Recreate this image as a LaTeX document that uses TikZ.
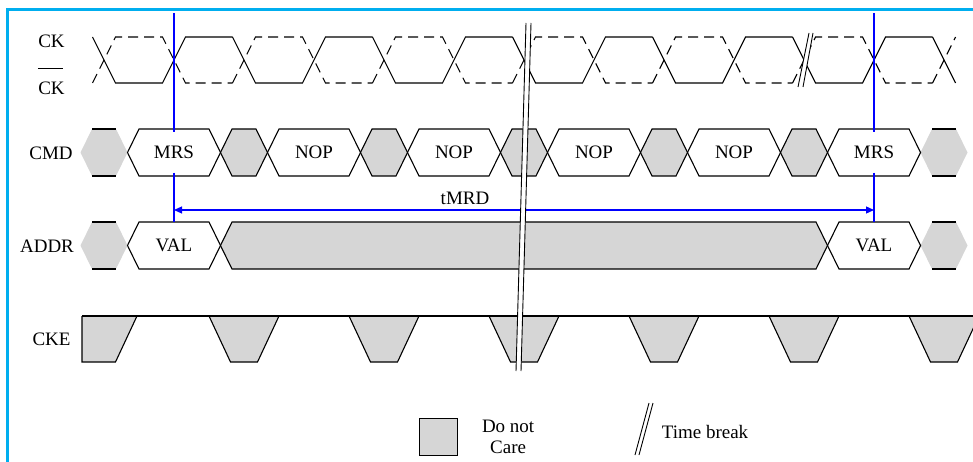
\documentclass[tikz,border=0pt]{standalone}
\usepackage{fontspec}
\setmainfont{Liberation Serif}
\usetikzlibrary{positioning}
\usetikzlibrary{arrows.meta}
\usetikzlibrary{calc}
\definecolor{framecyan}{RGB}{0,174,239}
\definecolor{dncgray}{RGB}{214,214,214}

\begin{document}
\begin{tikzpicture}[x=1pt,y=-1pt,line width=1.1pt,
		every node/.style={font=\fontsize{19}{21}\selectfont,inner sep=0pt},
		dnc/.style={fill=dncgray},
		ckdash/.style={dash pattern=on 10pt off 6pt},
		bustext/.style={minimum height=39pt},
		tline/.style={blue,line width=1.2pt},
		brk/.style={line width=0.9pt}]
		\useasboundingbox (0,0) rectangle (973,462);

		% Frame
		\draw[framecyan,line width=3pt] (7.5,480) -- (7.5,9.5) -- (990,9.5);

		% Signal names
		\node (ck) at (51.5,41) {CK};
		\node (ckb) at (51.5,88) {CK};
		\draw[line width=0.9pt] ([yshift=12.5pt]ckb.north west) -- ([yshift=12.5pt,xshift=-2pt]ckb.north east);
		\node (cmd) at (51,153) {CMD};
		\node (addr) at (47,246) {ADDR};
		\node (cke) at (51.5,339) {CKE};

		% Clock pair
		\foreach \x in {104,244,...,804} {
			\draw (\x-11.5,37) -- (\x+11.5,83) -- (\x+58.5,83) -- (\x+81.5,37) -- (\x+128.5,37);
			\draw[ckdash] (\x-11.5,83) -- (\x+11.5,37) -- (\x+58.5,37) -- (\x+81.5,83) -- (\x+128.5,83);
		}
		\draw (932.5,37) -- (955.5,83);
		\draw[ckdash] (932.5,83) -- (955.5,37);

		% Command bus
		\fill[dnc] (80.5,152.5) -- (92,129) -- (116,129) -- (127.5,152.5) -- (116,176) -- (92,176) -- cycle;
		\fill[dnc] (920.5,152.5) -- (932,129) -- (956,129) -- (967.5,152.5) -- (956,176) -- (932,176) -- cycle;
		\draw (92,129) -- (116,129) (92,176) -- (116,176);
		\draw (932,129) -- (956,129) (932,176) -- (956,176);
		\foreach \xa in {220.5,360.5,...,780.5}
			\draw[dnc] (\xa,152.5) -- (\xa+11.5,129) -- (\xa+35.5,129) -- (\xa+47,152.5) -- (\xa+35.5,176) -- (\xa+11.5,176) -- cycle;
		\foreach \xa/\xb/\cmdtext/\i in {127.5/220.5/MRS/1, 267.5/360.5/NOP/2, 407.5/500.5/NOP/3, 547.5/640.5/NOP/4, 687.5/780.5/NOP/5, 827.5/920.5/MRS/6} {
			\draw (\xa,152.5) -- (\xa+11.5,129) -- (\xb-11.5,129) -- (\xb,152.5) -- (\xb-11.5,176) -- (\xa+11.5,176) -- cycle;
			\node[bustext] (cmd\i) at ({(\xa+\xb)/2},152.5) {\cmdtext};
		}

		% Address bus
		\fill[dnc] (80.5,245.5) -- (92,222) -- (116,222) -- (127.5,245.5) -- (116,269) -- (92,269) -- cycle;
		\fill[dnc] (920.5,245.5) -- (932,222) -- (956,222) -- (967.5,245.5) -- (956,269) -- (932,269) -- cycle;
		\draw (92,222) -- (116,222) (92,269) -- (116,269);
		\draw (932,222) -- (956,222) (932,269) -- (956,269);
		\draw[dnc] (220.5,245.5) -- (232,222) -- (816,222) -- (827.5,245.5) -- (816,269) -- (232,269) -- cycle;
		\foreach \xa/\xb/\i in {127.5/220.5/1, 827.5/920.5/2} {
			\draw (\xa,245.5) -- (\xa+11.5,222) -- (\xb-11.5,222) -- (\xb,245.5) -- (\xb-11.5,269) -- (\xa+11.5,269) -- cycle;
			\node (val\i) at ({(\xa+\xb)/2},245.5) {VAL};
		}

		% Clock enable
		\draw[dnc] (82,316) -- (82,362) -- (115.5,362) -- (137,316);
		\foreach \x in {244,384,...,944}
			\draw[dnc] (\x-35,316) -- (\x-13.5,362) -- (\x+13.5,362) -- (\x+35,316);
		\draw (82,316) -- (980,316);

		% Mode register timing
		\coordinate (mrsa) at (174,13);
		\coordinate (mrsb) at (874,13);
		\coordinate (vala) at (174,222);
		\coordinate (valb) at (874,222);
		\coordinate (ta) at (174,210);
		\coordinate (tb) at (874,210);
		\draw[tline] (mrsa) -- (cmd1.north);
		\draw[tline] (cmd1.south) -- (vala);
		\draw[tline] (mrsb) -- (cmd6.north);
		\draw[tline] (cmd6.south) -- (valb);
		\draw[tline,{Triangle[length=8pt,width=7pt]}-{Triangle[length=8pt,width=7pt]}] (ta) -- (tb);
		\node (tmrd) at (465,198) {tMRD};

		% Time breaks
		\fill[white] (526,23) -- (531,23) -- (521,371) -- (516,371) -- cycle;
		\draw[brk] (526,23) -- (516,371);
		\draw[brk] (531,23) -- (521,371);
		\fill[white] (809,33) -- (813,33) -- (803,87) -- (798,87) -- cycle;
		\draw[brk] (809,33) -- (798,87);
		\draw[brk] (813,33) -- (803,87);

		% Legend
		\node[draw,dnc,line width=0.9pt,minimum width=38pt,minimum height=37pt] (dnckey) at (438,436.5) {};
		\node[align=center,right=24pt of dnckey] (dnctext) {Do not\\Care};
		\coordinate (brka) at (649,403);
		\coordinate (brkb) at (635,455);
		\draw[brk] (brka) -- (brkb);
		\draw[brk] ([xshift=4pt]brka) -- ([xshift=4pt]brkb);
		\node (brktext) at (705,432) {Time break};
	\end{tikzpicture}
\end{document}
